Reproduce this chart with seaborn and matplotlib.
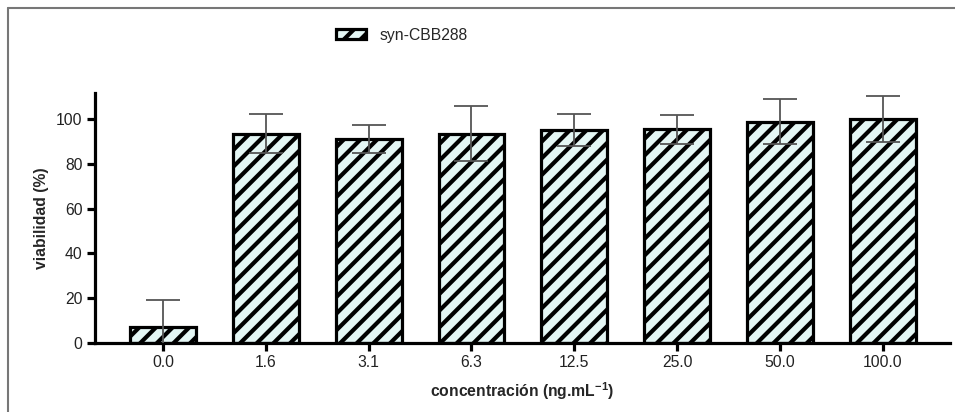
import matplotlib
matplotlib.use("Agg")
import matplotlib.pyplot as plt
from matplotlib.patches import Patch
from matplotlib.lines import Line2D
import seaborn as sns
import pandas as pd

# Viability of cells exposed to increasing syn-CBB288 concentrations
concentraciones = ["0.0", "1.6", "3.1", "6.3", "12.5", "25.0", "50.0", "100.0"]
viabilidad = [7.1, 93.4, 91.1, 93.4, 95.2, 95.5, 98.9, 100.1]
desviacion = [12.2, 8.7, 6.2, 12.3, 7.2, 6.4, 10.1, 10.3]
serie = "syn-CBB288"

sns.set_theme(style="ticks")
plt.rcParams["font.family"] = ["Liberation Sans", "DejaVu Sans"]
plt.rcParams["mathtext.fontset"] = "custom"
plt.rcParams["mathtext.rm"] = "Liberation Sans"
plt.rcParams["mathtext.bf"] = "Liberation Sans:bold"
plt.rcParams["hatch.linewidth"] = 3.0
plt.rcParams["hatch.color"] = "black"

df = pd.DataFrame({"conc": concentraciones, "viab": viabilidad})

fig = plt.figure(figsize=(9.55, 4.12), dpi=100)
ax = fig.add_axes([0.0995, 0.1675, 0.895, 0.607])

fill = "#e4f6f4"
sns.barplot(data=df, x="conc", y="viab", ax=ax, color=fill, width=0.64,
            edgecolor="black", linewidth=2.3, hatch="//", errorbar=None,
            saturation=1)

xpos = range(len(concentraciones))
ax.errorbar(xpos, viabilidad, yerr=desviacion, fmt="none", ecolor="#555555",
            elinewidth=1.3, capsize=12.5, capthick=1.3, zorder=5)

ax.set_xlim(-0.66, 7.65)
ax.set_ylim(0, 111.7)
ax.set_yticks([0, 20, 40, 60, 80, 100])

for side in ("top", "right"):
    ax.spines[side].set_visible(False)
for side in ("left", "bottom"):
    ax.spines[side].set_linewidth(2.3)
    ax.spines[side].set_color("black")
ax.tick_params(axis="both", direction="out", length=6, width=2.3,
               color="black", labelsize=11.3, labelcolor="#222222", pad=3)

ax.set_xlabel("concentración (ng.mL$^{\\mathbf{-1}}$)", fontsize=11.3,
              fontweight="bold", labelpad=7)
ax.set_ylabel("viabilidad (%)", fontsize=11.3, fontweight="bold", labelpad=5)

handle = Patch(facecolor=fill, edgecolor="black", linewidth=2.3, hatch="//")
fig.legend(handles=[handle], labels=[serie], loc="center left",
           bbox_to_anchor=(0.337, 0.915), frameon=False, fontsize=11.3,
           handlelength=1.9, handleheight=0.55, handletextpad=0.9)

# Outer frame along the left and top edges
fx = 8 / 955
fy = 1 - 8 / 412
fig.add_artist(Line2D([fx, fx], [0, fy], transform=fig.transFigure,
                      color="#777777", linewidth=1.5))
fig.add_artist(Line2D([fx, 1], [fy, fy], transform=fig.transFigure,
                      color="#777777", linewidth=1.5))

fig.savefig("out.png", dpi=100)
